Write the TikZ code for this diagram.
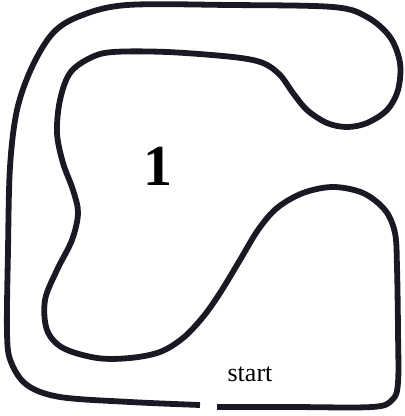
\documentclass[tikz,border=0pt]{standalone}
\usepackage{fontspec}
\setmainfont{Liberation Serif}
\definecolor{track}{rgb}{0.10,0.10,0.14}
\begin{document}
\begin{tikzpicture}[x=1pt,y=-1pt,
  trackline/.style={draw=track,line width=5.8pt,line join=round},
  lbl/.style={inner sep=0pt,text=black}]
\useasboundingbox (0,0) rectangle (405,416);
\draw[trackline] plot[smooth,tension=0.55] coordinates {
 (200,405) (130,402) (60,397) (27,385) (11,362) (7,333) (8,250) (10,167) (17,110)
 (32,67) (53,33) (80,16) (127,5) (230,5) (333,7) (367,17) (390,37) (400,63)
 (398,90) (387,110) (367,123) (347,127) (327,123) (307,110) (293,93) (280,75)
 (263,63) (233,57) (167,52) (113,52) (90,58) (70,73) (60,100) (57,133) (63,163)
 (73,190) (78,213) (72,240) (57,270) (45,300) (47,330) (63,348) (97,358) (130,358)
 (160,352) (183,338) (203,317) (220,293) (240,260) (258,230) (277,208) (303,193)
 (333,187) (363,193) (385,210) (395,233) (397,267) (398,330) (398,383) (392,400)
 (372,407) (290,407) (217,407)};
\node[lbl,font=\bfseries\fontsize{58}{58}\selectfont] (one) at (158,166) {1};
\node[lbl,font=\fontsize{26}{26}\selectfont] (start) at (250,374) {start};
\end{tikzpicture}
\end{document}
